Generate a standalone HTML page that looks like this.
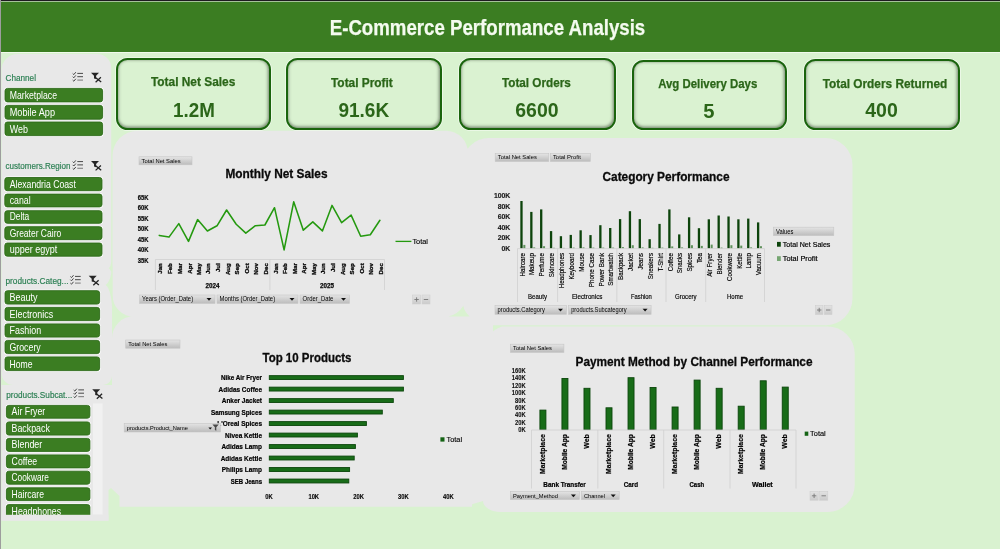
<!DOCTYPE html>
<html lang="en"><head><meta charset="utf-8"><title>E-Commerce Performance Analysis</title>
<style>
html,body{margin:0;padding:0}
body{width:1000px;height:549px;overflow:hidden;background:#d9f2d0;position:relative;font-family:"Liberation Sans", sans-serif}
.abs,.kpi{position:absolute;box-sizing:border-box}
.hdr{left:1px;top:0;width:999px;height:51.5px;background:linear-gradient(#1d1a20 0,#1d1a20 1px,#a5c19a 1px,#a5c19a 1.8px,#3b7d22 1.8px)}
.hl{left:1px;top:51.5px;width:999px;height:1.4px;background:#f0faec}
.edge{left:0;top:0;width:1.3px;height:549px;background:#9d9d9d}
.kpi{background:#daf2d1;border:2px solid #1a640d;border-radius:11.5px;box-shadow:inset -.4px -.8px 3px .8px rgba(70,80,65,.62),0 0 0 .8px rgba(255,255,255,.6)}
svg{position:absolute;left:0;top:0}
text{font-family:"Liberation Sans", sans-serif}
</style></head><body>
<div class="abs hdr"></div><div class="abs hl"></div>
<svg width="1000" height="549" viewBox="0 0 1000 549">
<path d="M17.5 54H97.2A14 14 0 0 1 111.2 68V262A10 10 0 0 1 101.2 272H1.5A0 0 0 0 1 1.5 272V70A16 16 0 0 1 17.5 54Z M1.5 266H103A9 9 0 0 1 112 275V376A9 9 0 0 1 103 385H13.5A12 12 0 0 1 1.5 373V266A0 0 0 0 1 1.5 266Z M1.5 385H108.5A0 0 0 0 1 108.5 385V520.6A0 0 0 0 1 108.5 520.6H1.5A0 0 0 0 1 1.5 520.6V385A0 0 0 0 1 1.5 385Z M137.5 130.8H446A22 22 0 0 1 468 152.8V295A22 22 0 0 1 446 317H134.5A22 22 0 0 1 112.5 295V155.8A25 25 0 0 1 137.5 130.8Z M489 138H825.5A27 27 0 0 1 852.5 165V298.3A27 27 0 0 1 825.5 325.3H489A27 27 0 0 1 462 298.3V165A27 27 0 0 1 489 138Z M134 316.2H472A0 0 0 0 1 472 316.2V506.7A0 0 0 0 1 472 506.7H112A0 0 0 0 1 112 506.7V338.2A22 22 0 0 1 134 316.2Z M502 326.5H827.7A27 27 0 0 1 854.7 353.5V485A27 27 0 0 1 827.7 512H501A18 11 0 0 1 483 501V353.5A27 27 0 0 1 502 326.5Z M108.5 385H125V506.7H108.5Z M440 300H489V325.3H493V345H440Z M440 330H484V501H440Z M472 500H483V501L472 504.2Z" fill="#e8e8e8"/>
<path d="M108.5 507V490L111 488L119.5 496V507Z M112.4 263Q111.5 281 105.6 285Q111.5 289 112.4 313Z M448.4 316.4Q458 314.5 463.3 305.8Q464.5 312 469.7 316.4Z" fill="#d9f2d0"/>
<rect x="93" y="403.5" width="9.5" height="111" fill="#f1f1f1"/>
</svg>
<div class="kpi" style="left:116px;top:58px;width:155.3px;height:72px"></div><div class="kpi" style="left:285.5px;top:58px;width:156.5px;height:72px"></div><div class="kpi" style="left:459.4px;top:58px;width:156.6px;height:72px"></div><div class="kpi" style="left:632.2px;top:60px;width:154.4px;height:70px"></div><div class="kpi" style="left:804.2px;top:59px;width:155.4px;height:71px"></div>
<div class="abs edge"></div>
<svg width="1000" height="549" viewBox="0 0 1000 549">
<defs>
<linearGradient id="btn" x1="0" y1="0" x2="0" y2="1"><stop offset="0" stop-color="#e4e4e4"/><stop offset="1" stop-color="#bcbcbc"/></linearGradient>
<linearGradient id="btn2" x1="0" y1="0" x2="0" y2="1"><stop offset="0" stop-color="#e2e2e2"/><stop offset="1" stop-color="#cbcbcb"/></linearGradient>
<g id="ms"><path d="M0.2 1.3l1.1 1.1 2-2.4M0.2 4.5l1.1 1.1 2-2.4M0.2 7.9l1.1 1.1 2-2.4" stroke="#444" stroke-width="1" fill="none"/><path d="M4.8 1.2h5.7M4.8 4.5h5.7" stroke="#484848" stroke-width="1" fill="none"/><path d="M4.8 7.9h5.7" stroke="#8a8a8a" stroke-width="1.2" fill="none"/></g>
<g id="cf"><path d="M0.5 0.3h8l-2.9 3v3.3l-2.1 -0.6v-2.7z" fill="#262626"/><path d="M4.9 5l5.8 4.6M10.4 4.9l-5.3 4.9" stroke="#222" stroke-width="1.25" fill="none"/></g>
</defs>
<text x="487.5" y="34.9" font-size="21.4" text-anchor="middle" fill="#f4fbef" font-weight="bold" textLength="315.5" lengthAdjust="spacingAndGlyphs" stroke="#f4fbef" stroke-width="0.25" >E-Commerce Performance Analysis</text>
<text x="193.15" y="85.9" font-size="12" text-anchor="middle" fill="#2b6619" font-weight="bold" textLength="84.3" lengthAdjust="spacingAndGlyphs" stroke="#2b6619" stroke-width="0.25" >Total Net Sales</text>
<text x="193.9" y="116.8" font-size="20.2" text-anchor="middle" fill="#2b6619" font-weight="bold" textLength="41.8" lengthAdjust="spacingAndGlyphs" >1.2M</text>
<text x="361.9" y="86.8" font-size="12" text-anchor="middle" fill="#2b6619" font-weight="bold" textLength="61.8" lengthAdjust="spacingAndGlyphs" stroke="#2b6619" stroke-width="0.25" >Total Profit</text>
<text x="363.8" y="117.0" font-size="20.2" text-anchor="middle" fill="#2b6619" font-weight="bold" textLength="50.7" lengthAdjust="spacingAndGlyphs" >91.6K</text>
<text x="536.4" y="86.8" font-size="12" text-anchor="middle" fill="#2b6619" font-weight="bold" textLength="68.8" lengthAdjust="spacingAndGlyphs" stroke="#2b6619" stroke-width="0.25" >Total Orders</text>
<text x="536.9" y="116.9" font-size="20.2" text-anchor="middle" fill="#2b6619" font-weight="bold" textLength="43.3" lengthAdjust="spacingAndGlyphs" >6600</text>
<text x="707.7" y="87.5" font-size="12" text-anchor="middle" fill="#2b6619" font-weight="bold" textLength="99.1" lengthAdjust="spacingAndGlyphs" stroke="#2b6619" stroke-width="0.25" >Avg Delivery Days</text>
<text x="708.8" y="118.3" font-size="20.2" text-anchor="middle" fill="#2b6619" font-weight="bold" >5</text>
<text x="885" y="87.7" font-size="12" text-anchor="middle" fill="#2b6619" font-weight="bold" textLength="124.7" lengthAdjust="spacingAndGlyphs" stroke="#2b6619" stroke-width="0.25" >Total Orders Returned</text>
<text x="881.5" y="116.9" font-size="20.2" text-anchor="middle" fill="#2b6619" font-weight="bold" textLength="32.5" lengthAdjust="spacingAndGlyphs" >400</text>
<text x="5.5" y="81.1" font-size="9.3" text-anchor="start" fill="#2a7f52" textLength="30.5" lengthAdjust="spacingAndGlyphs" stroke="#2a7f52" stroke-width="0.18" >Channel</text>
<use href="#ms" x="72.5" y="72.2"/>
<use href="#cf" x="90.5" y="72.4"/>
<rect x="4.0" y="87.4" width="99.6" height="15.5" fill="#fff" rx="3.2" />
<rect x="5.0" y="88.4" width="97.6" height="13.5" fill="#3b7d22" rx="2.4" stroke="#2d6a19" stroke-width="0.9"/>
<text x="9.7" y="98.8" font-size="10.2" text-anchor="start" fill="#fff" textLength="47.3" lengthAdjust="spacingAndGlyphs" >Marketplace</text>
<rect x="4.0" y="104.4" width="99.6" height="15.8" fill="#fff" rx="3.2" />
<rect x="5.0" y="105.4" width="97.6" height="13.8" fill="#3b7d22" rx="2.4" stroke="#2d6a19" stroke-width="0.9"/>
<text x="9.7" y="116.1" font-size="10.2" text-anchor="start" fill="#fff" textLength="45.3" lengthAdjust="spacingAndGlyphs" >Mobile App</text>
<rect x="4.0" y="121.0" width="99.6" height="15.6" fill="#fff" rx="3.2" />
<rect x="5.0" y="122.0" width="97.6" height="13.6" fill="#3b7d22" rx="2.4" stroke="#2d6a19" stroke-width="0.9"/>
<text x="9.7" y="132.5" font-size="10.2" text-anchor="start" fill="#fff" textLength="18.2" lengthAdjust="spacingAndGlyphs" >Web</text>
<text x="5.5" y="169.3" font-size="9.3" text-anchor="start" fill="#2a7f52" textLength="65" lengthAdjust="spacingAndGlyphs" stroke="#2a7f52" stroke-width="0.18" >customers.Region</text>
<use href="#ms" x="72.5" y="160.4"/>
<use href="#cf" x="90.5" y="160.6"/>
<rect x="3.8" y="176.5" width="99.2" height="15.2" fill="#fff" rx="3.2" />
<rect x="4.8" y="177.5" width="97.2" height="13.2" fill="#3b7d22" rx="2.4" stroke="#2d6a19" stroke-width="0.9"/>
<text x="9.7" y="187.6" font-size="10.2" text-anchor="start" fill="#fff" textLength="66.2" lengthAdjust="spacingAndGlyphs" >Alexandria Coast</text>
<rect x="3.8" y="193.1" width="99.2" height="14.8" fill="#fff" rx="3.2" />
<rect x="4.8" y="194.1" width="97.2" height="12.8" fill="#3b7d22" rx="2.4" stroke="#2d6a19" stroke-width="0.9"/>
<text x="9.7" y="203.8" font-size="10.2" text-anchor="start" fill="#fff" textLength="20.9" lengthAdjust="spacingAndGlyphs" >canal</text>
<rect x="3.8" y="209.7" width="99.2" height="14.6" fill="#fff" rx="3.2" />
<rect x="4.8" y="210.7" width="97.2" height="12.6" fill="#3b7d22" rx="2.4" stroke="#2d6a19" stroke-width="0.9"/>
<text x="9.7" y="220.2" font-size="10.2" text-anchor="start" fill="#fff" textLength="19.6" lengthAdjust="spacingAndGlyphs" >Delta</text>
<rect x="3.8" y="225.7" width="99.2" height="15.0" fill="#fff" rx="3.2" />
<rect x="4.8" y="226.7" width="97.2" height="13.0" fill="#3b7d22" rx="2.4" stroke="#2d6a19" stroke-width="0.9"/>
<text x="9.7" y="236.6" font-size="10.2" text-anchor="start" fill="#fff" textLength="51.5" lengthAdjust="spacingAndGlyphs" >Greater Cairo</text>
<rect x="3.8" y="242.0" width="99.2" height="15.2" fill="#fff" rx="3.2" />
<rect x="4.8" y="243.0" width="97.2" height="13.2" fill="#3b7d22" rx="2.4" stroke="#2d6a19" stroke-width="0.9"/>
<text x="9.7" y="253.1" font-size="10.2" text-anchor="start" fill="#fff" textLength="47.6" lengthAdjust="spacingAndGlyphs" >upper egypt</text>
<text x="5.5" y="284.1" font-size="9.3" text-anchor="start" fill="#2a7f52" textLength="63" lengthAdjust="spacingAndGlyphs" stroke="#2a7f52" stroke-width="0.18" >products.Categ...</text>
<use href="#ms" x="70.2" y="275.2"/>
<use href="#cf" x="88.2" y="275.4"/>
<rect x="4.0" y="289.7" width="96.6" height="15.4" fill="#fff" rx="3.2" />
<rect x="5.0" y="290.7" width="94.6" height="13.4" fill="#3b7d22" rx="2.4" stroke="#2d6a19" stroke-width="0.9"/>
<text x="9.5" y="301.0" font-size="10.2" text-anchor="start" fill="#fff" textLength="28" lengthAdjust="spacingAndGlyphs" >Beauty</text>
<rect x="4.0" y="306.4" width="96.6" height="15.2" fill="#fff" rx="3.2" />
<rect x="5.0" y="307.4" width="94.6" height="13.2" fill="#3b7d22" rx="2.4" stroke="#2d6a19" stroke-width="0.9"/>
<text x="9.5" y="317.5" font-size="10.2" text-anchor="start" fill="#fff" textLength="43.7" lengthAdjust="spacingAndGlyphs" >Electronics</text>
<rect x="4.0" y="322.9" width="96.6" height="15.2" fill="#fff" rx="3.2" />
<rect x="5.0" y="323.9" width="94.6" height="13.2" fill="#3b7d22" rx="2.4" stroke="#2d6a19" stroke-width="0.9"/>
<text x="9.5" y="334.0" font-size="10.2" text-anchor="start" fill="#fff" textLength="31.7" lengthAdjust="spacingAndGlyphs" >Fashion</text>
<rect x="4.0" y="339.4" width="96.6" height="15.2" fill="#fff" rx="3.2" />
<rect x="5.0" y="340.4" width="94.6" height="13.2" fill="#3b7d22" rx="2.4" stroke="#2d6a19" stroke-width="0.9"/>
<text x="9.5" y="350.5" font-size="10.2" text-anchor="start" fill="#fff" textLength="31.2" lengthAdjust="spacingAndGlyphs" >Grocery</text>
<rect x="4.0" y="355.9" width="96.6" height="15.7" fill="#fff" rx="3.2" />
<rect x="5.0" y="356.9" width="94.6" height="13.7" fill="#3b7d22" rx="2.4" stroke="#2d6a19" stroke-width="0.9"/>
<text x="9.5" y="367.5" font-size="10.2" text-anchor="start" fill="#fff" textLength="23" lengthAdjust="spacingAndGlyphs" >Home</text>
<text x="6.2" y="397.6" font-size="9.3" text-anchor="start" fill="#2a7f52" textLength="66" lengthAdjust="spacingAndGlyphs" stroke="#2a7f52" stroke-width="0.18" >products.Subcat...</text>
<use href="#ms" x="73.5" y="388.7"/>
<use href="#cf" x="91.7" y="388.9"/>
<rect x="5.4" y="404.4" width="85.5" height="14.8" fill="#fff" rx="3.2" />
<rect x="6.4" y="405.4" width="83.5" height="12.8" fill="#3b7d22" rx="2.4" stroke="#2d6a19" stroke-width="0.9"/>
<text x="11.6" y="415.1" font-size="10.2" text-anchor="start" fill="#fff" textLength="33.7" lengthAdjust="spacingAndGlyphs" >Air Fryer</text>
<rect x="5.4" y="420.9" width="85.5" height="15.2" fill="#fff" rx="3.2" />
<rect x="6.4" y="421.9" width="83.5" height="13.2" fill="#3b7d22" rx="2.4" stroke="#2d6a19" stroke-width="0.9"/>
<text x="11.6" y="432.0" font-size="10.2" text-anchor="start" fill="#fff" textLength="38.2" lengthAdjust="spacingAndGlyphs" >Backpack</text>
<rect x="5.4" y="437.4" width="85.5" height="15.0" fill="#fff" rx="3.2" />
<rect x="6.4" y="438.4" width="83.5" height="13.0" fill="#3b7d22" rx="2.4" stroke="#2d6a19" stroke-width="0.9"/>
<text x="11.6" y="448.3" font-size="10.2" text-anchor="start" fill="#fff" textLength="30.7" lengthAdjust="spacingAndGlyphs" >Blender</text>
<rect x="5.4" y="453.9" width="85.5" height="15.0" fill="#fff" rx="3.2" />
<rect x="6.4" y="454.9" width="83.5" height="13.0" fill="#3b7d22" rx="2.4" stroke="#2d6a19" stroke-width="0.9"/>
<text x="11.6" y="464.8" font-size="10.2" text-anchor="start" fill="#fff" textLength="25.6" lengthAdjust="spacingAndGlyphs" >Coffee</text>
<rect x="5.4" y="470.2" width="85.5" height="15.0" fill="#fff" rx="3.2" />
<rect x="6.4" y="471.2" width="83.5" height="13.0" fill="#3b7d22" rx="2.4" stroke="#2d6a19" stroke-width="0.9"/>
<text x="11.6" y="481.1" font-size="10.2" text-anchor="start" fill="#fff" textLength="37.4" lengthAdjust="spacingAndGlyphs" >Cookware</text>
<rect x="5.4" y="486.8" width="85.5" height="14.8" fill="#fff" rx="3.2" />
<rect x="6.4" y="487.8" width="83.5" height="12.8" fill="#3b7d22" rx="2.4" stroke="#2d6a19" stroke-width="0.9"/>
<text x="11.6" y="497.5" font-size="10.2" text-anchor="start" fill="#fff" textLength="32.4" lengthAdjust="spacingAndGlyphs" >Haircare</text>
<rect x="5.4" y="503.6" width="85.5" height="15.2" fill="#fff" rx="3.2" />
<rect x="6.4" y="504.6" width="83.5" height="13.2" fill="#3b7d22" rx="2.4" stroke="#2d6a19" stroke-width="0.9"/>
<text x="11.6" y="514.7" font-size="10.2" text-anchor="start" fill="#fff" textLength="49.5" lengthAdjust="spacingAndGlyphs" >Headphones</text>
<rect x="1.5" y="514.8" width="107" height="6" fill="#e8e8e8" rx="0" />
<rect x="139" y="156.8" width="53" height="8" fill="url(#btn)" rx="0" stroke="#c6c6c6" stroke-width="0.6"/>
<text x="141.6" y="162.7" font-size="5.8" text-anchor="start" fill="#000" textLength="39" lengthAdjust="spacingAndGlyphs" >Total Net Sales</text>
<text x="276.5" y="178.2" font-size="13" text-anchor="middle" fill="#0a0a0a" font-weight="bold" textLength="102" lengthAdjust="spacingAndGlyphs" stroke="#0a0a0a" stroke-width="0.3" >Monthly Net Sales</text>
<text x="148.6" y="199.8" font-size="6.5" text-anchor="end" fill="#0a0a0a" font-weight="bold" textLength="10.8" lengthAdjust="spacingAndGlyphs" stroke="#0a0a0a" stroke-width="0.2" >65K</text>
<text x="148.6" y="210.3" font-size="6.5" text-anchor="end" fill="#0a0a0a" font-weight="bold" textLength="10.8" lengthAdjust="spacingAndGlyphs" stroke="#0a0a0a" stroke-width="0.2" >60K</text>
<text x="148.6" y="220.8" font-size="6.5" text-anchor="end" fill="#0a0a0a" font-weight="bold" textLength="10.8" lengthAdjust="spacingAndGlyphs" stroke="#0a0a0a" stroke-width="0.2" >55K</text>
<text x="148.6" y="231.3" font-size="6.5" text-anchor="end" fill="#0a0a0a" font-weight="bold" textLength="10.8" lengthAdjust="spacingAndGlyphs" stroke="#0a0a0a" stroke-width="0.2" >50K</text>
<text x="148.6" y="241.8" font-size="6.5" text-anchor="end" fill="#0a0a0a" font-weight="bold" textLength="10.8" lengthAdjust="spacingAndGlyphs" stroke="#0a0a0a" stroke-width="0.2" >45K</text>
<text x="148.6" y="252.3" font-size="6.5" text-anchor="end" fill="#0a0a0a" font-weight="bold" textLength="10.8" lengthAdjust="spacingAndGlyphs" stroke="#0a0a0a" stroke-width="0.2" >40K</text>
<text x="148.6" y="262.8" font-size="6.5" text-anchor="end" fill="#0a0a0a" font-weight="bold" textLength="10.8" lengthAdjust="spacingAndGlyphs" stroke="#0a0a0a" stroke-width="0.2" >35K</text>
<polyline fill="none" stroke="#24990f" stroke-width="1.55" stroke-linejoin="round" stroke-linecap="round" points="159.3,235.4 169.0,237.1 178.8,223.6 188.5,241.4 197.6,219.6 207.4,231 217.0,225.8 226.6,210.0 236.2,224.3 245.8,233.1 255.4,225.7 264.9,225.0 274.5,207.7 284.1,249.9 293.7,201.8 303.3,230.2 312.8,221.9 322.4,230.9 332.0,205.4 341.6,222.7 351.1,215.1 360.7,236.2 370.3,234.7 379.9,220.3"/>
<line x1="155.4" y1="259.5" x2="384.5" y2="259.5" stroke="#cfcfcf" stroke-width="0.8"/>
<line x1="155.4" y1="259.5" x2="155.4" y2="290" stroke="#cfcfcf" stroke-width="0.8"/>
<line x1="269.9" y1="259.5" x2="269.9" y2="290" stroke="#cfcfcf" stroke-width="0.8"/>
<line x1="384.5" y1="259.5" x2="384.5" y2="290" stroke="#cfcfcf" stroke-width="0.8"/>
<text x="162.4" y="263.2" font-size="6.1" text-anchor="end" fill="#0a0a0a" font-weight="bold" transform="rotate(-90 162.4 263.2)" stroke="#0a0a0a" stroke-width="0.3" >Jan</text>
<text x="172.1" y="263.2" font-size="6.1" text-anchor="end" fill="#0a0a0a" font-weight="bold" transform="rotate(-90 172.1 263.2)" stroke="#0a0a0a" stroke-width="0.3" >Feb</text>
<text x="181.9" y="263.2" font-size="6.1" text-anchor="end" fill="#0a0a0a" font-weight="bold" transform="rotate(-90 181.9 263.2)" stroke="#0a0a0a" stroke-width="0.3" >Mar</text>
<text x="191.6" y="263.2" font-size="6.1" text-anchor="end" fill="#0a0a0a" font-weight="bold" transform="rotate(-90 191.6 263.2)" stroke="#0a0a0a" stroke-width="0.3" >Apr</text>
<text x="200.7" y="263.2" font-size="6.1" text-anchor="end" fill="#0a0a0a" font-weight="bold" transform="rotate(-90 200.7 263.2)" stroke="#0a0a0a" stroke-width="0.3" >May</text>
<text x="210.5" y="263.2" font-size="6.1" text-anchor="end" fill="#0a0a0a" font-weight="bold" transform="rotate(-90 210.5 263.2)" stroke="#0a0a0a" stroke-width="0.3" >Jun</text>
<text x="220.1" y="263.2" font-size="6.1" text-anchor="end" fill="#0a0a0a" font-weight="bold" transform="rotate(-90 220.1 263.2)" stroke="#0a0a0a" stroke-width="0.3" >Jul</text>
<text x="229.7" y="263.2" font-size="6.1" text-anchor="end" fill="#0a0a0a" font-weight="bold" transform="rotate(-90 229.7 263.2)" stroke="#0a0a0a" stroke-width="0.3" >Aug</text>
<text x="239.3" y="263.2" font-size="6.1" text-anchor="end" fill="#0a0a0a" font-weight="bold" transform="rotate(-90 239.3 263.2)" stroke="#0a0a0a" stroke-width="0.3" >Sep</text>
<text x="248.9" y="263.2" font-size="6.1" text-anchor="end" fill="#0a0a0a" font-weight="bold" transform="rotate(-90 248.9 263.2)" stroke="#0a0a0a" stroke-width="0.3" >Oct</text>
<text x="258.5" y="263.2" font-size="6.1" text-anchor="end" fill="#0a0a0a" font-weight="bold" transform="rotate(-90 258.5 263.2)" stroke="#0a0a0a" stroke-width="0.3" >Nov</text>
<text x="268.0" y="263.2" font-size="6.1" text-anchor="end" fill="#0a0a0a" font-weight="bold" transform="rotate(-90 268.0 263.2)" stroke="#0a0a0a" stroke-width="0.3" >Dec</text>
<text x="277.6" y="263.2" font-size="6.1" text-anchor="end" fill="#0a0a0a" font-weight="bold" transform="rotate(-90 277.6 263.2)" stroke="#0a0a0a" stroke-width="0.3" >Jan</text>
<text x="287.2" y="263.2" font-size="6.1" text-anchor="end" fill="#0a0a0a" font-weight="bold" transform="rotate(-90 287.2 263.2)" stroke="#0a0a0a" stroke-width="0.3" >Feb</text>
<text x="296.8" y="263.2" font-size="6.1" text-anchor="end" fill="#0a0a0a" font-weight="bold" transform="rotate(-90 296.8 263.2)" stroke="#0a0a0a" stroke-width="0.3" >Mar</text>
<text x="306.4" y="263.2" font-size="6.1" text-anchor="end" fill="#0a0a0a" font-weight="bold" transform="rotate(-90 306.4 263.2)" stroke="#0a0a0a" stroke-width="0.3" >Apr</text>
<text x="315.9" y="263.2" font-size="6.1" text-anchor="end" fill="#0a0a0a" font-weight="bold" transform="rotate(-90 315.9 263.2)" stroke="#0a0a0a" stroke-width="0.3" >May</text>
<text x="325.5" y="263.2" font-size="6.1" text-anchor="end" fill="#0a0a0a" font-weight="bold" transform="rotate(-90 325.5 263.2)" stroke="#0a0a0a" stroke-width="0.3" >Jun</text>
<text x="335.1" y="263.2" font-size="6.1" text-anchor="end" fill="#0a0a0a" font-weight="bold" transform="rotate(-90 335.1 263.2)" stroke="#0a0a0a" stroke-width="0.3" >Jul</text>
<text x="344.7" y="263.2" font-size="6.1" text-anchor="end" fill="#0a0a0a" font-weight="bold" transform="rotate(-90 344.7 263.2)" stroke="#0a0a0a" stroke-width="0.3" >Aug</text>
<text x="354.2" y="263.2" font-size="6.1" text-anchor="end" fill="#0a0a0a" font-weight="bold" transform="rotate(-90 354.2 263.2)" stroke="#0a0a0a" stroke-width="0.3" >Sep</text>
<text x="363.8" y="263.2" font-size="6.1" text-anchor="end" fill="#0a0a0a" font-weight="bold" transform="rotate(-90 363.8 263.2)" stroke="#0a0a0a" stroke-width="0.3" >Oct</text>
<text x="373.4" y="263.2" font-size="6.1" text-anchor="end" fill="#0a0a0a" font-weight="bold" transform="rotate(-90 373.4 263.2)" stroke="#0a0a0a" stroke-width="0.3" >Nov</text>
<text x="383.0" y="263.2" font-size="6.1" text-anchor="end" fill="#0a0a0a" font-weight="bold" transform="rotate(-90 383.0 263.2)" stroke="#0a0a0a" stroke-width="0.3" >Dec</text>
<text x="212.5" y="288.2" font-size="6.4" text-anchor="middle" fill="#0a0a0a" font-weight="bold" textLength="14" lengthAdjust="spacingAndGlyphs" stroke="#0a0a0a" stroke-width="0.25" >2024</text>
<text x="327" y="288.2" font-size="6.4" text-anchor="middle" fill="#0a0a0a" font-weight="bold" textLength="14" lengthAdjust="spacingAndGlyphs" stroke="#0a0a0a" stroke-width="0.25" >2025</text>
<rect x="139.5" y="295" width="75.5" height="8.4" fill="url(#btn)" rx="0" stroke="#c6c6c6" stroke-width="0.6"/>
<text x="142.1" y="301.3" font-size="6.3" text-anchor="start" fill="#000" textLength="51" lengthAdjust="spacingAndGlyphs" >Years (Order_Date)</text>
<path d="M206.5 298.1 h5 l-2.5 2.7z" fill="#111"/>
<rect x="217" y="295" width="81" height="8.4" fill="url(#btn)" rx="0" stroke="#c6c6c6" stroke-width="0.6"/>
<text x="219.6" y="301.3" font-size="6.3" text-anchor="start" fill="#000" textLength="55.5" lengthAdjust="spacingAndGlyphs" >Months (Order_Date)</text>
<path d="M289.5 298.1 h5 l-2.5 2.7z" fill="#111"/>
<rect x="300" y="295" width="49.5" height="8.4" fill="url(#btn)" rx="0" stroke="#c6c6c6" stroke-width="0.6"/>
<text x="302.6" y="301.3" font-size="6.3" text-anchor="start" fill="#000" textLength="30.8" lengthAdjust="spacingAndGlyphs" >Order_Date</text>
<path d="M341.0 298.1 h5 l-2.5 2.7z" fill="#111"/>
<rect x="412.6" y="295" width="8" height="9" fill="url(#btn2)" rx="0" stroke="#cfcfcf" stroke-width="0.6"/>
<path d="M414.4 299.5h4.4M416.6 297.3v4.4" stroke="#777" stroke-width="0.9" fill="none"/>
<rect x="422.0" y="295" width="8" height="9" fill="url(#btn2)" rx="0" stroke="#cfcfcf" stroke-width="0.6"/>
<path d="M423.8 299.5h4.4" stroke="#777" stroke-width="0.9" fill="none"/>
<line x1="395.5" y1="241.4" x2="411.4" y2="241.4" stroke="#24990f" stroke-width="1.3"/>
<text x="412.4" y="243.9" font-size="7" text-anchor="start" fill="#000" textLength="15.6" lengthAdjust="spacingAndGlyphs" stroke="#000" stroke-width="0.12" >Total</text>
<rect x="495.2" y="153.5" width="53.6" height="8" fill="url(#btn)" rx="0" stroke="#c6c6c6" stroke-width="0.6"/>
<text x="497.8" y="159.4" font-size="5.8" text-anchor="start" fill="#000" textLength="39" lengthAdjust="spacingAndGlyphs" >Total Net Sales</text>
<rect x="550.3" y="153.5" width="40" height="8" fill="url(#btn)" rx="0" stroke="#c6c6c6" stroke-width="0.6"/>
<text x="552.9" y="159.4" font-size="5.8" text-anchor="start" fill="#000" textLength="28" lengthAdjust="spacingAndGlyphs" >Total Profit</text>
<text x="666" y="180.8" font-size="13" text-anchor="middle" fill="#0a0a0a" font-weight="bold" textLength="127" lengthAdjust="spacingAndGlyphs" stroke="#0a0a0a" stroke-width="0.3" >Category Performance</text>
<text x="510.3" y="198.0" font-size="7.2" text-anchor="end" fill="#1a1a1a" font-weight="bold" textLength="16.4" lengthAdjust="spacingAndGlyphs" stroke="#1a1a1a" stroke-width="0.15" >100K</text>
<text x="510.3" y="208.56" font-size="7.2" text-anchor="end" fill="#1a1a1a" font-weight="bold" textLength="12.59" lengthAdjust="spacingAndGlyphs" stroke="#1a1a1a" stroke-width="0.15" >80K</text>
<text x="510.3" y="219.12" font-size="7.2" text-anchor="end" fill="#1a1a1a" font-weight="bold" textLength="12.59" lengthAdjust="spacingAndGlyphs" stroke="#1a1a1a" stroke-width="0.15" >60K</text>
<text x="510.3" y="229.68" font-size="7.2" text-anchor="end" fill="#1a1a1a" font-weight="bold" textLength="12.59" lengthAdjust="spacingAndGlyphs" stroke="#1a1a1a" stroke-width="0.15" >40K</text>
<text x="510.3" y="240.24" font-size="7.2" text-anchor="end" fill="#1a1a1a" font-weight="bold" textLength="12.59" lengthAdjust="spacingAndGlyphs" stroke="#1a1a1a" stroke-width="0.15" >20K</text>
<text x="510.3" y="250.8" font-size="7.2" text-anchor="end" fill="#1a1a1a" font-weight="bold" textLength="8.77" lengthAdjust="spacingAndGlyphs" stroke="#1a1a1a" stroke-width="0.15" >0K</text>
<rect x="520.33" y="201.0" width="2.3" height="47.4" fill="#0d440c" rx="0" />
<rect x="523.33" y="244.9" width="2" height="3.5" fill="#5f915b" rx="0" />
<text x="524.63" y="253" font-size="6.3" text-anchor="end" fill="#000" textLength="23.44" lengthAdjust="spacingAndGlyphs" transform="rotate(-90 524.63 253)" stroke="#000" stroke-width="0.15" >Haircare</text>
<rect x="530.19" y="211.9" width="2.3" height="36.5" fill="#0d440c" rx="0" />
<rect x="533.19" y="247.4" width="2" height="1" fill="#5f915b" rx="0" />
<text x="534.49" y="253" font-size="6.3" text-anchor="end" fill="#000" textLength="22.07" lengthAdjust="spacingAndGlyphs" transform="rotate(-90 534.49 253)" stroke="#000" stroke-width="0.15" >Makeup</text>
<rect x="540.05" y="209.4" width="2.3" height="39" fill="#0d440c" rx="0" />
<rect x="543.05" y="246.2" width="2" height="2.2" fill="#5f915b" rx="0" />
<text x="544.35" y="253" font-size="6.3" text-anchor="end" fill="#000" textLength="23.45" lengthAdjust="spacingAndGlyphs" transform="rotate(-90 544.35 253)" stroke="#000" stroke-width="0.15" >Perfume</text>
<rect x="549.91" y="231.1" width="2.3" height="17.3" fill="#0d440c" rx="0" />
<rect x="552.91" y="247.8" width="2" height="0.6" fill="#5f915b" rx="0" />
<text x="554.21" y="253" font-size="6.3" text-anchor="end" fill="#000" textLength="24.14" lengthAdjust="spacingAndGlyphs" transform="rotate(-90 554.21 253)" stroke="#000" stroke-width="0.15" >Skincare</text>
<rect x="559.77" y="236.2" width="2.3" height="12.2" fill="#0d440c" rx="0" />
<rect x="562.77" y="247.9" width="2" height="0.5" fill="#5f915b" rx="0" />
<text x="564.07" y="253" font-size="6.3" text-anchor="end" fill="#000" textLength="35.19" lengthAdjust="spacingAndGlyphs" transform="rotate(-90 564.07 253)" stroke="#000" stroke-width="0.15" >Headphones</text>
<rect x="569.63" y="234.9" width="2.3" height="13.5" fill="#0d440c" rx="0" />
<rect x="572.63" y="247.6" width="2" height="0.8" fill="#5f915b" rx="0" />
<text x="573.93" y="253" font-size="6.3" text-anchor="end" fill="#000" textLength="26.56" lengthAdjust="spacingAndGlyphs" transform="rotate(-90 573.93 253)" stroke="#000" stroke-width="0.15" >Keyboard</text>
<rect x="579.49" y="230.3" width="2.3" height="18.1" fill="#0d440c" rx="0" />
<rect x="582.49" y="247.4" width="2" height="1" fill="#5f915b" rx="0" />
<text x="583.79" y="253" font-size="6.3" text-anchor="end" fill="#000" textLength="18.62" lengthAdjust="spacingAndGlyphs" transform="rotate(-90 583.79 253)" stroke="#000" stroke-width="0.15" >Mouse</text>
<rect x="589.35" y="235.1" width="2.3" height="13.3" fill="#0d440c" rx="0" />
<rect x="592.35" y="247.6" width="2" height="0.8" fill="#5f915b" rx="0" />
<text x="593.65" y="253" font-size="6.3" text-anchor="end" fill="#000" textLength="34.15" lengthAdjust="spacingAndGlyphs" transform="rotate(-90 593.65 253)" stroke="#000" stroke-width="0.15" >Phone Case</text>
<rect x="599.21" y="225.2" width="2.3" height="23.2" fill="#0d440c" rx="0" />
<rect x="602.21" y="247.6" width="2" height="0.8" fill="#5f915b" rx="0" />
<text x="603.51" y="253" font-size="6.3" text-anchor="end" fill="#000" textLength="33.45" lengthAdjust="spacingAndGlyphs" transform="rotate(-90 603.51 253)" stroke="#000" stroke-width="0.15" >Power Bank</text>
<rect x="609.07" y="228.0" width="2.3" height="20.4" fill="#0d440c" rx="0" />
<rect x="612.07" y="247.6" width="2" height="0.8" fill="#5f915b" rx="0" />
<text x="613.37" y="253" font-size="6.3" text-anchor="end" fill="#000" textLength="32.75" lengthAdjust="spacingAndGlyphs" transform="rotate(-90 613.37 253)" stroke="#000" stroke-width="0.15" >Smartwatch</text>
<rect x="618.93" y="219.1" width="2.3" height="29.3" fill="#0d440c" rx="0" />
<rect x="621.93" y="247.1" width="2" height="1.3" fill="#5f915b" rx="0" />
<text x="623.23" y="253" font-size="6.3" text-anchor="end" fill="#000" textLength="26.9" lengthAdjust="spacingAndGlyphs" transform="rotate(-90 623.23 253)" stroke="#000" stroke-width="0.15" >Backpack</text>
<rect x="628.79" y="211.2" width="2.3" height="37.2" fill="#0d440c" rx="0" />
<rect x="631.79" y="245.2" width="2" height="3.2" fill="#5f915b" rx="0" />
<text x="633.09" y="253" font-size="6.3" text-anchor="end" fill="#000" textLength="17.93" lengthAdjust="spacingAndGlyphs" transform="rotate(-90 633.09 253)" stroke="#000" stroke-width="0.15" >Jacket</text>
<rect x="638.65" y="219.1" width="2.3" height="29.3" fill="#0d440c" rx="0" />
<rect x="641.65" y="247.4" width="2" height="1" fill="#5f915b" rx="0" />
<text x="642.95" y="253" font-size="6.3" text-anchor="end" fill="#000" textLength="16.56" lengthAdjust="spacingAndGlyphs" transform="rotate(-90 642.95 253)" stroke="#000" stroke-width="0.15" >Jeans</text>
<rect x="648.51" y="239.2" width="2.3" height="9.2" fill="#0d440c" rx="0" />
<rect x="651.51" y="247.8" width="2" height="0.6" fill="#5f915b" rx="0" />
<text x="652.81" y="253" font-size="6.3" text-anchor="end" fill="#000" textLength="26.21" lengthAdjust="spacingAndGlyphs" transform="rotate(-90 652.81 253)" stroke="#000" stroke-width="0.15" >Sneakers</text>
<rect x="658.37" y="223.9" width="2.3" height="24.5" fill="#0d440c" rx="0" />
<rect x="661.37" y="247.6" width="2" height="0.8" fill="#5f915b" rx="0" />
<text x="662.67" y="253" font-size="6.3" text-anchor="end" fill="#000" textLength="18.27" lengthAdjust="spacingAndGlyphs" transform="rotate(-90 662.67 253)" stroke="#000" stroke-width="0.15" >T-Shirt</text>
<rect x="668.23" y="209.4" width="2.3" height="39" fill="#0d440c" rx="0" />
<rect x="671.23" y="246.4" width="2" height="2" fill="#5f915b" rx="0" />
<text x="672.53" y="253" font-size="6.3" text-anchor="end" fill="#000" textLength="18.17" lengthAdjust="spacingAndGlyphs" transform="rotate(-90 672.53 253)" stroke="#000" stroke-width="0.15" >Coffee</text>
<rect x="678.09" y="234.4" width="2.3" height="14" fill="#0d440c" rx="0" />
<rect x="681.09" y="247.4" width="2" height="1" fill="#5f915b" rx="0" />
<text x="682.39" y="253" font-size="6.3" text-anchor="end" fill="#000" textLength="20.35" lengthAdjust="spacingAndGlyphs" transform="rotate(-90 682.39 253)" stroke="#000" stroke-width="0.15" >Snacks</text>
<rect x="687.95" y="217.3" width="2.3" height="31.1" fill="#0d440c" rx="0" />
<rect x="690.95" y="245.2" width="2" height="3.2" fill="#5f915b" rx="0" />
<text x="692.25" y="253" font-size="6.3" text-anchor="end" fill="#000" textLength="18.62" lengthAdjust="spacingAndGlyphs" transform="rotate(-90 692.25 253)" stroke="#000" stroke-width="0.15" >Spices</text>
<rect x="697.81" y="228.2" width="2.3" height="20.2" fill="#0d440c" rx="0" />
<rect x="700.81" y="245.9" width="2" height="2.5" fill="#5f915b" rx="0" />
<text x="702.11" y="253" font-size="6.3" text-anchor="end" fill="#000" textLength="10.0" lengthAdjust="spacingAndGlyphs" transform="rotate(-90 702.11 253)" stroke="#000" stroke-width="0.15" >Tea</text>
<rect x="707.67" y="219.3" width="2.3" height="29.1" fill="#0d440c" rx="0" />
<rect x="710.67" y="244.6" width="2" height="3.8" fill="#5f915b" rx="0" />
<text x="711.97" y="253" font-size="6.3" text-anchor="end" fill="#000" textLength="23.78" lengthAdjust="spacingAndGlyphs" transform="rotate(-90 711.97 253)" stroke="#000" stroke-width="0.15" >Air Fryer</text>
<rect x="717.53" y="215.5" width="2.3" height="32.9" fill="#0d440c" rx="0" />
<rect x="720.53" y="247.6" width="2" height="0.8" fill="#5f915b" rx="0" />
<text x="721.83" y="253" font-size="6.3" text-anchor="end" fill="#000" textLength="21.38" lengthAdjust="spacingAndGlyphs" transform="rotate(-90 721.83 253)" stroke="#000" stroke-width="0.15" >Blender</text>
<rect x="727.39" y="216.5" width="2.3" height="31.9" fill="#0d440c" rx="0" />
<rect x="730.39" y="245.2" width="2" height="3.2" fill="#5f915b" rx="0" />
<text x="731.69" y="253" font-size="6.3" text-anchor="end" fill="#000" textLength="27.93" lengthAdjust="spacingAndGlyphs" transform="rotate(-90 731.69 253)" stroke="#000" stroke-width="0.15" >Cookware</text>
<rect x="737.25" y="219.3" width="2.3" height="29.1" fill="#0d440c" rx="0" />
<rect x="740.25" y="245.6" width="2" height="2.8" fill="#5f915b" rx="0" />
<text x="741.55" y="253" font-size="6.3" text-anchor="end" fill="#000" textLength="15.86" lengthAdjust="spacingAndGlyphs" transform="rotate(-90 741.55 253)" stroke="#000" stroke-width="0.15" >Kettle</text>
<rect x="747.11" y="218.6" width="2.3" height="29.8" fill="#0d440c" rx="0" />
<rect x="750.11" y="247.4" width="2" height="1" fill="#5f915b" rx="0" />
<text x="751.41" y="253" font-size="6.3" text-anchor="end" fill="#000" textLength="15.52" lengthAdjust="spacingAndGlyphs" transform="rotate(-90 751.41 253)" stroke="#000" stroke-width="0.15" >Lamp</text>
<rect x="756.97" y="222.4" width="2.3" height="26" fill="#0d440c" rx="0" />
<rect x="759.97" y="246.2" width="2" height="2.2" fill="#5f915b" rx="0" />
<text x="761.27" y="253" font-size="6.3" text-anchor="end" fill="#000" textLength="22.3" lengthAdjust="spacingAndGlyphs" transform="rotate(-90 761.27 253)" stroke="#000" stroke-width="0.15" >Vacuum</text>
<line x1="517.5" y1="248.6" x2="764.5" y2="248.6" stroke="#cfcfcf" stroke-width="0.8"/>
<line x1="517.5" y1="248.6" x2="517.5" y2="302" stroke="#cfcfcf" stroke-width="0.8"/>
<line x1="557.6" y1="248.6" x2="557.6" y2="302" stroke="#cfcfcf" stroke-width="0.8"/>
<line x1="616.8" y1="248.6" x2="616.8" y2="302" stroke="#cfcfcf" stroke-width="0.8"/>
<line x1="666" y1="248.6" x2="666" y2="302" stroke="#cfcfcf" stroke-width="0.8"/>
<line x1="705.7" y1="248.6" x2="705.7" y2="302" stroke="#cfcfcf" stroke-width="0.8"/>
<line x1="764.5" y1="248.6" x2="764.5" y2="302" stroke="#cfcfcf" stroke-width="0.8"/>
<text x="537.5" y="299.2" font-size="6.6" text-anchor="middle" fill="#000" textLength="18.9" lengthAdjust="spacingAndGlyphs" stroke="#000" stroke-width="0.15" >Beauty</text>
<text x="587.2" y="299.2" font-size="6.6" text-anchor="middle" fill="#000" textLength="30.6" lengthAdjust="spacingAndGlyphs" stroke="#000" stroke-width="0.15" >Electronics</text>
<text x="641.4" y="299.2" font-size="6.6" text-anchor="middle" fill="#000" textLength="20.9" lengthAdjust="spacingAndGlyphs" stroke="#000" stroke-width="0.15" >Fashion</text>
<text x="685.8" y="299.2" font-size="6.6" text-anchor="middle" fill="#000" textLength="21.5" lengthAdjust="spacingAndGlyphs" stroke="#000" stroke-width="0.15" >Grocery</text>
<text x="735" y="299.2" font-size="6.6" text-anchor="middle" fill="#000" textLength="16" lengthAdjust="spacingAndGlyphs" stroke="#000" stroke-width="0.15" >Home</text>
<rect x="495" y="305.5" width="71.5" height="8.8" fill="url(#btn)" rx="0" stroke="#c6c6c6" stroke-width="0.6"/>
<text x="497.6" y="312.2" font-size="6.3" text-anchor="start" fill="#000" textLength="47.2" lengthAdjust="spacingAndGlyphs" >products.Category</text>
<path d="M558.0 308.8 h5 l-2.5 2.7z" fill="#111"/>
<rect x="568.6" y="305.5" width="82.5" height="8.8" fill="url(#btn)" rx="0" stroke="#c6c6c6" stroke-width="0.6"/>
<text x="571.2" y="312.2" font-size="6.3" text-anchor="start" fill="#000" textLength="55.4" lengthAdjust="spacingAndGlyphs" >products.Subcategory</text>
<path d="M642.6 308.8 h5 l-2.5 2.7z" fill="#111"/>
<rect x="815.4" y="305.5" width="7.6" height="9" fill="url(#btn2)" rx="0" stroke="#cfcfcf" stroke-width="0.6"/>
<path d="M817.0 310.0h4.4M819.2 307.8v4.4" stroke="#777" stroke-width="0.9" fill="none"/>
<rect x="824.4" y="305.5" width="7.6" height="9" fill="url(#btn2)" rx="0" stroke="#cfcfcf" stroke-width="0.6"/>
<path d="M826.0 310.0h4.4" stroke="#777" stroke-width="0.9" fill="none"/>
<rect x="773.3" y="227.2" width="60.5" height="8.4" fill="url(#btn)" rx="0" stroke="#c6c6c6" stroke-width="0.6"/>
<text x="776" y="233.7" font-size="6.3" text-anchor="start" fill="#000" textLength="17.3" lengthAdjust="spacingAndGlyphs" >Values</text>
<rect x="777" y="241.9" width="3.8" height="4.8" fill="#0d440c" rx="0" />
<text x="782.8" y="246.7" font-size="7.1" text-anchor="start" fill="#000" textLength="47.6" lengthAdjust="spacingAndGlyphs" stroke="#000" stroke-width="0.18" >Total Net Sales</text>
<rect x="777" y="256.2" width="3.8" height="4.8" fill="#76a672" rx="0" />
<text x="782.8" y="260.9" font-size="7.1" text-anchor="start" fill="#000" textLength="34.8" lengthAdjust="spacingAndGlyphs" stroke="#000" stroke-width="0.18" >Total Profit</text>
<rect x="125.7" y="340" width="54.3" height="8.2" fill="url(#btn)" rx="0" stroke="#c6c6c6" stroke-width="0.6"/>
<text x="128.3" y="346.1" font-size="5.8" text-anchor="start" fill="#000" textLength="39" lengthAdjust="spacingAndGlyphs" >Total Net Sales</text>
<text x="307" y="362.3" font-size="13" text-anchor="middle" fill="#0a0a0a" font-weight="bold" textLength="89" lengthAdjust="spacingAndGlyphs" stroke="#0a0a0a" stroke-width="0.3" >Top 10 Products</text>
<text x="262" y="380.4" font-size="6.7" text-anchor="end" fill="#000" font-weight="bold" textLength="41" lengthAdjust="spacingAndGlyphs" stroke="#000" stroke-width="0.2" >Nike Air Fryer</text>
<rect x="269.3" y="375.65" width="134.1" height="3.9" fill="#186c18" rx="0" stroke="#0b460b" stroke-width="0.9"/>
<text x="262" y="391.89" font-size="6.7" text-anchor="end" fill="#000" font-weight="bold" textLength="43.47" lengthAdjust="spacingAndGlyphs" stroke="#000" stroke-width="0.2" >Adidas Coffee</text>
<rect x="269.3" y="387.14" width="134.1" height="3.9" fill="#186c18" rx="0" stroke="#0b460b" stroke-width="0.9"/>
<text x="262" y="403.38" font-size="6.7" text-anchor="end" fill="#000" font-weight="bold" textLength="40.26" lengthAdjust="spacingAndGlyphs" stroke="#000" stroke-width="0.2" >Anker Jacket</text>
<rect x="269.3" y="398.63" width="124.0" height="3.9" fill="#186c18" rx="0" stroke="#0b460b" stroke-width="0.9"/>
<text x="262" y="414.87" font-size="6.7" text-anchor="end" fill="#000" font-weight="bold" textLength="51.1" lengthAdjust="spacingAndGlyphs" stroke="#000" stroke-width="0.2" >Samsung Spices</text>
<rect x="269.3" y="410.12" width="113.0" height="3.9" fill="#186c18" rx="0" stroke="#0b460b" stroke-width="0.9"/>
<text x="262" y="426.36" font-size="6.7" text-anchor="end" fill="#000" font-weight="bold" textLength="44.66" lengthAdjust="spacingAndGlyphs" stroke="#000" stroke-width="0.2" >L&#x27;Oreal Spices</text>
<rect x="269.3" y="421.61" width="97.1" height="3.9" fill="#186c18" rx="0" stroke="#0b460b" stroke-width="0.9"/>
<text x="262" y="437.85" font-size="6.7" text-anchor="end" fill="#000" font-weight="bold" textLength="37.01" lengthAdjust="spacingAndGlyphs" stroke="#000" stroke-width="0.2" >Nivea Kettle</text>
<rect x="269.3" y="433.1" width="88.1" height="3.9" fill="#186c18" rx="0" stroke="#0b460b" stroke-width="0.9"/>
<text x="262" y="449.34" font-size="6.7" text-anchor="end" fill="#000" font-weight="bold" textLength="40.6" lengthAdjust="spacingAndGlyphs" stroke="#000" stroke-width="0.2" >Adidas Lamp</text>
<rect x="269.3" y="444.59" width="86.1" height="3.9" fill="#186c18" rx="0" stroke="#0b460b" stroke-width="0.9"/>
<text x="262" y="460.83" font-size="6.7" text-anchor="end" fill="#000" font-weight="bold" textLength="41.32" lengthAdjust="spacingAndGlyphs" stroke="#000" stroke-width="0.2" >Adidas Kettle</text>
<rect x="269.3" y="456.08" width="84.9" height="3.9" fill="#186c18" rx="0" stroke="#0b460b" stroke-width="0.9"/>
<text x="262" y="472.32" font-size="6.7" text-anchor="end" fill="#000" font-weight="bold" textLength="40.24" lengthAdjust="spacingAndGlyphs" stroke="#000" stroke-width="0.2" >Philips Lamp</text>
<rect x="269.3" y="467.57" width="80.3" height="3.9" fill="#186c18" rx="0" stroke="#0b460b" stroke-width="0.9"/>
<text x="262" y="483.81" font-size="6.7" text-anchor="end" fill="#000" font-weight="bold" textLength="31.2" lengthAdjust="spacingAndGlyphs" stroke="#000" stroke-width="0.2" >SEB Jeans</text>
<rect x="269.3" y="479.06" width="79.5" height="3.9" fill="#186c18" rx="0" stroke="#0b460b" stroke-width="0.9"/>
<text x="268.9" y="498.6" font-size="7" text-anchor="middle" fill="#0a0a0a" font-weight="bold" textLength="7.43" lengthAdjust="spacingAndGlyphs" stroke="#0a0a0a" stroke-width="0.15" >0K</text>
<text x="313.75" y="498.6" font-size="7" text-anchor="middle" fill="#0a0a0a" font-weight="bold" textLength="10.66" lengthAdjust="spacingAndGlyphs" stroke="#0a0a0a" stroke-width="0.15" >10K</text>
<text x="358.6" y="498.6" font-size="7" text-anchor="middle" fill="#0a0a0a" font-weight="bold" textLength="10.66" lengthAdjust="spacingAndGlyphs" stroke="#0a0a0a" stroke-width="0.15" >20K</text>
<text x="403.45" y="498.6" font-size="7" text-anchor="middle" fill="#0a0a0a" font-weight="bold" textLength="10.66" lengthAdjust="spacingAndGlyphs" stroke="#0a0a0a" stroke-width="0.15" >30K</text>
<text x="448.3" y="498.6" font-size="7" text-anchor="middle" fill="#0a0a0a" font-weight="bold" textLength="10.66" lengthAdjust="spacingAndGlyphs" stroke="#0a0a0a" stroke-width="0.15" >40K</text>
<rect x="124.2" y="423.4" width="96.4" height="8.6" fill="url(#btn)" rx="0" stroke="#c6c6c6" stroke-width="0.6"/>
<text x="126.8" y="429.9" font-size="6" text-anchor="start" fill="#000" textLength="61" lengthAdjust="spacingAndGlyphs" >products.Product_Name</text>
<path d="M208.4 427.6h3.6l-1.8 2z" fill="#111"/>
<path d="M212.4 424.4h6.4l-2.5 2.9v3.4l-1.4 -0.8v-2.6z" fill="#4a4a4a"/>
<rect x="440.4" y="437.3" width="4.1" height="4.3" fill="#146314" rx="0" />
<text x="446.5" y="441.8" font-size="7" text-anchor="start" fill="#000" textLength="15.6" lengthAdjust="spacingAndGlyphs" stroke="#000" stroke-width="0.12" >Total</text>
<rect x="510.4" y="344.2" width="53.5" height="8.2" fill="url(#btn)" rx="0" stroke="#c6c6c6" stroke-width="0.6"/>
<text x="513.0" y="350.3" font-size="5.8" text-anchor="start" fill="#000" textLength="39" lengthAdjust="spacingAndGlyphs" >Total Net Sales</text>
<text x="694" y="366.3" font-size="13" text-anchor="middle" fill="#0a0a0a" font-weight="bold" textLength="237" lengthAdjust="spacingAndGlyphs" stroke="#0a0a0a" stroke-width="0.3" >Payment Method by Channel Performance</text>
<text x="525.6" y="373.0" font-size="6.6" text-anchor="end" fill="#111" font-weight="bold" textLength="13.81" lengthAdjust="spacingAndGlyphs" stroke="#111" stroke-width="0.1" >160K</text>
<text x="525.6" y="380.38" font-size="6.6" text-anchor="end" fill="#111" font-weight="bold" textLength="13.81" lengthAdjust="spacingAndGlyphs" stroke="#111" stroke-width="0.1" >140K</text>
<text x="525.6" y="387.76" font-size="6.6" text-anchor="end" fill="#111" font-weight="bold" textLength="13.81" lengthAdjust="spacingAndGlyphs" stroke="#111" stroke-width="0.1" >120K</text>
<text x="525.6" y="395.14" font-size="6.6" text-anchor="end" fill="#111" font-weight="bold" textLength="13.81" lengthAdjust="spacingAndGlyphs" stroke="#111" stroke-width="0.1" >100K</text>
<text x="525.6" y="402.52" font-size="6.6" text-anchor="end" fill="#111" font-weight="bold" textLength="10.59" lengthAdjust="spacingAndGlyphs" stroke="#111" stroke-width="0.1" >80K</text>
<text x="525.6" y="409.9" font-size="6.6" text-anchor="end" fill="#111" font-weight="bold" textLength="10.59" lengthAdjust="spacingAndGlyphs" stroke="#111" stroke-width="0.1" >60K</text>
<text x="525.6" y="417.28" font-size="6.6" text-anchor="end" fill="#111" font-weight="bold" textLength="10.59" lengthAdjust="spacingAndGlyphs" stroke="#111" stroke-width="0.1" >40K</text>
<text x="525.6" y="424.66" font-size="6.6" text-anchor="end" fill="#111" font-weight="bold" textLength="10.59" lengthAdjust="spacingAndGlyphs" stroke="#111" stroke-width="0.1" >20K</text>
<text x="525.6" y="432.04" font-size="6.6" text-anchor="end" fill="#111" font-weight="bold" textLength="7.38" lengthAdjust="spacingAndGlyphs" stroke="#111" stroke-width="0.1" >0K</text>
<rect x="539.91" y="410.1" width="6" height="19.5" fill="#186c18" rx="0" stroke="#0b460b" stroke-width="0.9"/>
<text x="545.01" y="434.2" font-size="6.7" text-anchor="end" fill="#000" font-weight="bold" textLength="39.7" lengthAdjust="spacingAndGlyphs" transform="rotate(-90 545.01 434.2)" stroke="#000" stroke-width="0.2" >Marketplace</text>
<rect x="561.94" y="378.5" width="6" height="51.1" fill="#186c18" rx="0" stroke="#0b460b" stroke-width="0.9"/>
<text x="567.04" y="434.2" font-size="6.7" text-anchor="end" fill="#000" font-weight="bold" textLength="35.5" lengthAdjust="spacingAndGlyphs" transform="rotate(-90 567.04 434.2)" stroke="#000" stroke-width="0.2" >Mobile App</text>
<rect x="583.98" y="388.3" width="6" height="41.3" fill="#186c18" rx="0" stroke="#0b460b" stroke-width="0.9"/>
<text x="589.08" y="434.2" font-size="6.7" text-anchor="end" fill="#000" font-weight="bold" textLength="14.6" lengthAdjust="spacingAndGlyphs" transform="rotate(-90 589.08 434.2)" stroke="#000" stroke-width="0.2" >Web</text>
<rect x="606.0" y="407.8" width="6" height="21.8" fill="#186c18" rx="0" stroke="#0b460b" stroke-width="0.9"/>
<text x="611.11" y="434.2" font-size="6.7" text-anchor="end" fill="#000" font-weight="bold" textLength="39.7" lengthAdjust="spacingAndGlyphs" transform="rotate(-90 611.11 434.2)" stroke="#000" stroke-width="0.2" >Marketplace</text>
<rect x="628.03" y="377.7" width="6" height="51.9" fill="#186c18" rx="0" stroke="#0b460b" stroke-width="0.9"/>
<text x="633.13" y="434.2" font-size="6.7" text-anchor="end" fill="#000" font-weight="bold" textLength="35.5" lengthAdjust="spacingAndGlyphs" transform="rotate(-90 633.13 434.2)" stroke="#000" stroke-width="0.2" >Mobile App</text>
<rect x="650.06" y="387.5" width="6" height="42.1" fill="#186c18" rx="0" stroke="#0b460b" stroke-width="0.9"/>
<text x="655.16" y="434.2" font-size="6.7" text-anchor="end" fill="#000" font-weight="bold" textLength="14.6" lengthAdjust="spacingAndGlyphs" transform="rotate(-90 655.16 434.2)" stroke="#000" stroke-width="0.2" >Web</text>
<rect x="672.09" y="407.0" width="6" height="22.6" fill="#186c18" rx="0" stroke="#0b460b" stroke-width="0.9"/>
<text x="677.19" y="434.2" font-size="6.7" text-anchor="end" fill="#000" font-weight="bold" textLength="39.7" lengthAdjust="spacingAndGlyphs" transform="rotate(-90 677.19 434.2)" stroke="#000" stroke-width="0.2" >Marketplace</text>
<rect x="694.12" y="380.1" width="6" height="49.5" fill="#186c18" rx="0" stroke="#0b460b" stroke-width="0.9"/>
<text x="699.23" y="434.2" font-size="6.7" text-anchor="end" fill="#000" font-weight="bold" textLength="35.5" lengthAdjust="spacingAndGlyphs" transform="rotate(-90 699.23 434.2)" stroke="#000" stroke-width="0.2" >Mobile App</text>
<rect x="716.15" y="388.3" width="6" height="41.3" fill="#186c18" rx="0" stroke="#0b460b" stroke-width="0.9"/>
<text x="721.25" y="434.2" font-size="6.7" text-anchor="end" fill="#000" font-weight="bold" textLength="14.6" lengthAdjust="spacingAndGlyphs" transform="rotate(-90 721.25 434.2)" stroke="#000" stroke-width="0.2" >Web</text>
<rect x="738.19" y="406.2" width="6" height="23.4" fill="#186c18" rx="0" stroke="#0b460b" stroke-width="0.9"/>
<text x="743.29" y="434.2" font-size="6.7" text-anchor="end" fill="#000" font-weight="bold" textLength="39.7" lengthAdjust="spacingAndGlyphs" transform="rotate(-90 743.29 434.2)" stroke="#000" stroke-width="0.2" >Marketplace</text>
<rect x="760.22" y="380.8" width="6" height="48.8" fill="#186c18" rx="0" stroke="#0b460b" stroke-width="0.9"/>
<text x="765.32" y="434.2" font-size="6.7" text-anchor="end" fill="#000" font-weight="bold" textLength="35.5" lengthAdjust="spacingAndGlyphs" transform="rotate(-90 765.32 434.2)" stroke="#000" stroke-width="0.2" >Mobile App</text>
<rect x="782.25" y="387.1" width="6" height="42.5" fill="#186c18" rx="0" stroke="#0b460b" stroke-width="0.9"/>
<text x="787.35" y="434.2" font-size="6.7" text-anchor="end" fill="#000" font-weight="bold" textLength="14.6" lengthAdjust="spacingAndGlyphs" transform="rotate(-90 787.35 434.2)" stroke="#000" stroke-width="0.2" >Web</text>
<line x1="531.5" y1="430" x2="796" y2="430" stroke="#cfcfcf" stroke-width="0.8"/>
<line x1="531.5" y1="430" x2="531.5" y2="488.5" stroke="#cfcfcf" stroke-width="0.8"/>
<line x1="597.8" y1="430" x2="597.8" y2="488.5" stroke="#cfcfcf" stroke-width="0.8"/>
<line x1="663.7" y1="430" x2="663.7" y2="488.5" stroke="#cfcfcf" stroke-width="0.8"/>
<line x1="730" y1="430" x2="730" y2="488.5" stroke="#cfcfcf" stroke-width="0.8"/>
<line x1="796" y1="430" x2="796" y2="488.5" stroke="#cfcfcf" stroke-width="0.8"/>
<text x="564.6" y="486.6" font-size="6.8" text-anchor="middle" fill="#000" font-weight="bold" textLength="42.5" lengthAdjust="spacingAndGlyphs" stroke="#000" stroke-width="0.2" >Bank Transfer</text>
<text x="631" y="486.6" font-size="6.8" text-anchor="middle" fill="#000" font-weight="bold" textLength="14.4" lengthAdjust="spacingAndGlyphs" stroke="#000" stroke-width="0.2" >Card</text>
<text x="696.8" y="486.6" font-size="6.8" text-anchor="middle" fill="#000" font-weight="bold" textLength="14.6" lengthAdjust="spacingAndGlyphs" stroke="#000" stroke-width="0.2" >Cash</text>
<text x="762.4" y="486.6" font-size="6.8" text-anchor="middle" fill="#000" font-weight="bold" textLength="20.7" lengthAdjust="spacingAndGlyphs" stroke="#000" stroke-width="0.2" >Wallet</text>
<rect x="510.4" y="491.6" width="69" height="8" fill="url(#btn)" rx="0" stroke="#c6c6c6" stroke-width="0.6"/>
<text x="513.0" y="497.5" font-size="6" text-anchor="start" fill="#000" textLength="45" lengthAdjust="spacingAndGlyphs" >Payment_Method</text>
<path d="M570.9 494.5 h5 l-2.5 2.7z" fill="#111"/>
<rect x="581.4" y="491.6" width="37.8" height="8" fill="url(#btn)" rx="0" stroke="#c6c6c6" stroke-width="0.6"/>
<text x="584.0" y="497.5" font-size="6" text-anchor="start" fill="#000" textLength="21" lengthAdjust="spacingAndGlyphs" >Channel</text>
<path d="M610.7 494.5 h5 l-2.5 2.7z" fill="#111"/>
<rect x="810" y="491.4" width="8.2" height="8.8" fill="url(#btn2)" rx="0" stroke="#cfcfcf" stroke-width="0.6"/>
<path d="M811.9 495.8h4.4M814.1 493.6v4.4" stroke="#777" stroke-width="0.9" fill="none"/>
<rect x="819.6" y="491.4" width="8.2" height="8.8" fill="url(#btn2)" rx="0" stroke="#cfcfcf" stroke-width="0.6"/>
<path d="M821.5 495.8h4.4" stroke="#777" stroke-width="0.9" fill="none"/>
<rect x="804.7" y="431.6" width="3.6" height="4.2" fill="#146314" rx="0" />
<text x="810.1" y="436" font-size="7" text-anchor="start" fill="#000" textLength="15.6" lengthAdjust="spacingAndGlyphs" stroke="#000" stroke-width="0.12" >Total</text>
</svg>
</body></html>
